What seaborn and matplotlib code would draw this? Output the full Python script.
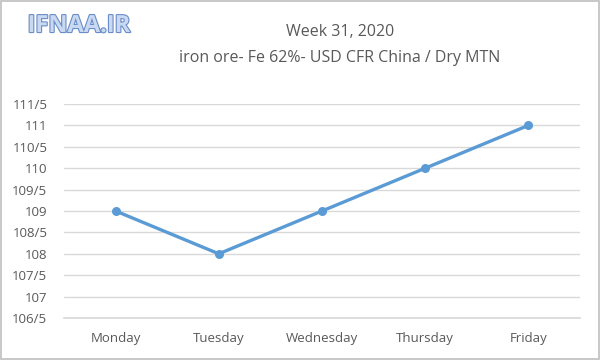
import matplotlib
matplotlib.use("Agg")
import matplotlib.pyplot as plt
import matplotlib.patheffects as pe
from matplotlib.ticker import FixedLocator, FuncFormatter
import seaborn as sns
import pandas as pd

days = ["Monday", "Tuesday", "Wednesday", "Thursday", "Friday"]
prices = [109, 108, 109, 110, 111]
yticks = [106.5, 107, 107.5, 108, 108.5, 109, 109.5, 110, 110.5, 111, 111.5]

df = pd.DataFrame({"day": days, "price": prices})

sns.set_theme(style="white")
plt.rcParams["font.family"] = ["Open Sans", "DejaVu Sans"]

fig = plt.figure(figsize=(6, 3.6), dpi=100)
ax = fig.add_axes([64 / 600, 1 - 318 / 360, (580 - 64) / 600, (318 - 104) / 360])

sns.lineplot(data=df, x="day", y="price", ax=ax, color="#5B9BD5",
             linewidth=2.4, marker="o", markersize=6.5, markeredgewidth=0,
             sort=False)

ax.set_xlim(-0.5, len(days) - 0.5)
ax.set_ylim(106.5, 111.5)
ax.yaxis.set_major_locator(FixedLocator(yticks))

def fmt(v, pos):
    if abs(v - round(v)) < 1e-6:
        return f"{int(round(v))}"
    return f"{int(v)}/5"

ax.yaxis.set_major_formatter(FuncFormatter(fmt))
ax.grid(axis="y", color="#d9d9d9", linewidth=1)
ax.set_axisbelow(True)
for s in ["top", "right", "left"]:
    ax.spines[s].set_visible(False)
ax.spines["bottom"].set_color("#d9d9d9")
ax.set_xlabel("")
ax.set_ylabel("")
ax.tick_params(axis="both", length=0, labelsize=9.5, colors="#595959")
ax.tick_params(axis="x", pad=10)
ax.tick_params(axis="y", pad=12)

fig.text(340 / 600, 1 - 32 / 360, "Week 31, 2020", ha="center", va="center",
         fontsize=11.5, color="#595959")
fig.text(340 / 600, 1 - 58 / 360, "iron ore- Fe 62%- USD CFR China / Dry MTN",
         ha="center", va="center", fontsize=11.5, color="#595959")

logo = fig.text(79 / 600, 1 - 26 / 360, "IFNAA.IR", ha="center", va="center",
                fontsize=17, fontweight="bold", color="#c9d9f2")
logo.set_path_effects([pe.withStroke(linewidth=1.6, foreground="#6a8cc8")])

fig.patches.append(plt.Rectangle((0.002, 0.003), 0.996, 0.994, transform=fig.transFigure,
                                 fill=False, edgecolor="#bfbfbf", linewidth=1.2))

fig.savefig("out.png", dpi=100)
